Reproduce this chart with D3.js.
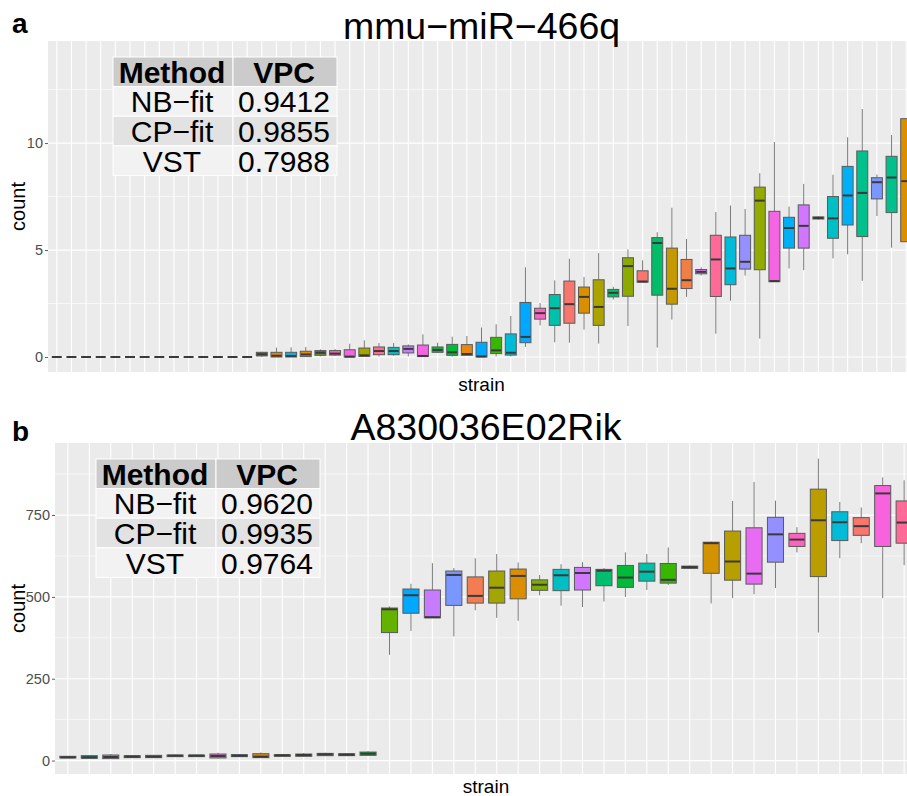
<!DOCTYPE html>
<html>
<head>
<meta charset="utf-8">
<script src="https://cdn.jsdelivr.net/npm/d3@7"></script>
<style>
  html,body{margin:0;padding:0;background:#fff;}
  svg{display:block;font-family:"Liberation Sans",Arial,Helvetica,sans-serif;}
</style>
</head>
<body>
<script>
// ---------------- DATA ----------------
// Panel a: mmu-miR-466q (59 strains, sorted by mean)
const titleA = "mmu\u2212miR\u2212466q";
const strainsA = d3.range(59).map(i => "A" + (i + 1));
const loA  = [0,0,0,0,0,0,0,0,0,0,0,0,0,0, 0.00,0.00,0.00,0.02,0.03,0.05,0.00,0.03,0.02,0.06,0.03,0.02,0.19,0.02,0.05,0.00,0.03,0.03,0.47,1.48,0.69,0.67,1.28,0.63,2.69,1.45,3.50,0.44,1.75,2.81,3.81,1.09,2.63,3.81,0.86,3.52,4.14,4.06,6.42,4.61,4.80,3.56,6.59,5.11,5.39];
const q1A  = [0,0,0,0,0,0,0,0,0,0,0,0,0,0, 0.05,0.00,0.00,0.02,0.08,0.09,0.00,0.03,0.11,0.11,0.19,0.02,0.22,0.08,0.08,0.00,0.16,0.09,0.67,1.77,1.48,1.58,2.05,1.48,2.81,2.84,3.50,2.89,2.47,3.20,3.89,2.83,3.38,4.11,4.08,3.52,5.09,5.09,6.45,5.55,6.17,5.63,7.39,6.75,5.39];
const medA = [0,0,0,0,0,0,0,0,0,0,0,0,0,0, 0.13,0.06,0.05,0.12,0.20,0.16,0.02,0.08,0.28,0.28,0.38,0.05,0.33,0.22,0.14,0.03,0.31,0.20,0.94,2.05,2.28,2.47,2.81,2.34,3.00,4.25,3.53,5.33,3.19,3.59,3.98,4.56,4.14,4.45,7.31,3.55,6.03,6.13,6.50,6.48,7.55,7.67,8.17,8.39,8.22];
const q3A  = [0,0,0,0,0,0,0,0,0,0,0,0,0,0, 0.22,0.22,0.22,0.27,0.30,0.30,0.34,0.42,0.47,0.45,0.52,0.56,0.47,0.59,0.58,0.69,0.92,1.08,2.55,2.28,2.92,3.55,3.27,3.61,3.16,4.64,4.03,5.58,5.09,4.56,4.09,5.69,5.61,5.69,7.94,6.81,6.53,7.11,6.55,7.50,8.91,9.63,8.38,9.38,11.14];
const hiA  = [0,0,0,0,0,0,0,0,0,0,0,0,0,0, 0.25,0.44,0.45,0.47,0.36,0.37,0.62,0.78,0.66,0.66,0.59,1.06,0.67,0.95,0.98,1.38,1.53,1.92,4.19,2.52,3.58,4.59,3.74,4.86,3.28,5.03,4.52,5.83,6.98,5.52,4.19,6.78,7.08,6.92,8.59,10.05,7.03,8.09,6.58,8.52,10.27,11.59,8.53,10.38,11.14];
const colorsA = [
  "#7f7f7f","#7f7f7f","#7f7f7f","#7f7f7f","#7f7f7f","#7f7f7f","#7f7f7f","#7f7f7f","#7f7f7f","#7f7f7f","#7f7f7f","#7f7f7f","#7f7f7f","#7f7f7f",
  "#5f8a2c","#E58700","#00B8E7","#E58700","#5f8a2c","#FF62BC","#F564E3","#A3A500","#FF6C91","#00BFC4",
  "#C77CFF","#F564E3","#00BA38","#00BA38","#E68613","#00A9FF","#39B600","#00BCD8","#00A9FF","#FF61C3",
  "#00C1AA","#F8766D","#D89000","#ABA300","#00BE67","#8DAA00","#F8766D","#00BE67","#C49A00","#F07F45",
  "#DC71FA","#FF6A98","#00BCD8","#9590FF","#93AA00","#F564E3","#00B0F6","#D376FF","#E58700","#00BFC4",
  "#00B0F6","#00C08B","#7997FF","#00C08B","#D89000"];
const majorA = [0, 5, 10];
const minorA = [2.5, 7.5, 12.5];
const methods = ["NB\u2212fit", "CP\u2212fit", "VST"];
const vpcA = ["0.9412", "0.9855", "0.7988"];

// Panel b: A830036E02Rik (40 strains)
const titleB = "A830036E02Rik";
const strainsB = d3.range(40).map(i => "B" + (i + 1));
const loB  = [7,6,5,8,8,11,11,6,11,8,12,12,14,14,15, 323,396,436,379,459,436,427,505,473,469,486,500,521,536,585,480,496,508,527,636,391,618,664,496,597];
const q1B  = [8,7,6,9,9,12,12,8,12,9,13,13,15,15,16, 391,450,436,474,481,481,494,520,519,521,534,529,548,542,587,572,551,539,606,654,562,672,688,654,664];
const medB = [10,10,11,12,12,15,15,14,15,12,16,17,19,18,21, 462,505,438,567,503,528,564,537,566,573,580,559,577,552,591,664,608,571,691,675,734,728,716,816,727];
const q3B  = [13,15,17,15,16,17,17,20,18,21,18,20,22,21,26, 466,524,521,579,561,579,585,552,584,590,584,596,603,602,594,667,701,711,743,694,829,760,742,840,793];
const hiB  = [14,16,20,16,17,18,18,24,19,25,19,23,24,22,29, 471,540,603,588,618,631,605,567,600,606,588,636,631,651,596,669,793,851,794,713,922,790,773,865,856];
const colorsB = [
  "#8a8a8a","#00A087","#C77CFF","#39B600","#9590FF","#7CAE00","#00BFC4","#F564E3","#00B0F6","#E58700",
  "#A3A500","#53B400","#EF7F49","#00C08B","#00BA38",
  "#64B200","#00A9FF","#C77CFF","#7997FF","#F27D52","#A3A500","#DB8E00","#7CAE00","#00BFC4","#CF78FF",
  "#00BE70","#00BA38","#00C1A7","#39B600","#2f5c70","#D39200","#B79F00","#E76BF3","#9590FF","#FF62BC",
  "#BB9D00","#00BCD8","#F8766D","#F962DD","#FF6A98"];
const majorB = [0, 250, 500, 750];
const minorB = [125, 375, 625, 875];
const vpcB = ["0.9620", "0.9935", "0.9764"];

// ---------------- DRAW ----------------
const W = 907, H = 796;
const svg = d3.select("body").append("svg").attr("width", W).attr("height", H);

function panel(o) {
  const g = svg.append("g");
  const x = d3.scalePoint().domain(o.strains).range([o.left, o.right]).padding(0.6);
  const y = d3.scaleLinear().domain(o.ydom).range([o.bottom, o.top]);
  const step = x.step();
  const bw = step * 0.75;

  const clipId = "clip" + o.letter;
  svg.append("clipPath").attr("id", clipId).append("rect")
    .attr("x", o.left).attr("y", o.top).attr("width", o.right - o.left).attr("height", o.bottom - o.top);

  const pg = g.append("g").attr("clip-path", `url(#${clipId})`);
  pg.append("rect").attr("x", o.left).attr("y", o.top).attr("width", o.right - o.left)
    .attr("height", o.bottom - o.top).attr("fill", "#EBEBEB");

  // grid
  pg.selectAll(".minor").data(o.minor).join("line")
    .attr("x1", o.left).attr("x2", o.right).attr("y1", d => y(d)).attr("y2", d => y(d))
    .attr("stroke", "#fff").attr("stroke-width", 0.6);
  pg.selectAll(".major").data(o.major).join("line")
    .attr("x1", o.left).attr("x2", o.right).attr("y1", d => y(d)).attr("y2", d => y(d))
    .attr("stroke", "#fff").attr("stroke-width", 1.2);
  pg.selectAll(".vgrid").data(o.strains).join("line")
    .attr("x1", d => x(d)).attr("x2", d => x(d)).attr("y1", o.top).attr("y2", o.bottom)
    .attr("stroke", "#fff").attr("stroke-width", 1.1);

  // boxes
  const rows = o.strains.map((s, i) => ({s, lo: o.lo[i], q1: o.q1[i], med: o.med[i], q3: o.q3[i], hi: o.hi[i], c: o.colors[i]}));
  const bg = pg.selectAll(".box").data(rows).join("g");
  bg.append("line").attr("x1", d => x(d.s)).attr("x2", d => x(d.s))
    .attr("y1", d => y(d.hi)).attr("y2", d => y(d.q3)).attr("stroke", "#7a7a7a").attr("stroke-width", 1);
  bg.append("line").attr("x1", d => x(d.s)).attr("x2", d => x(d.s))
    .attr("y1", d => y(d.q1)).attr("y2", d => y(d.lo)).attr("stroke", "#7a7a7a").attr("stroke-width", 1);
  bg.append("rect").attr("x", d => x(d.s) - bw / 2).attr("width", bw)
    .attr("y", d => y(d.q3)).attr("height", d => Math.max(0, y(d.q1) - y(d.q3)))
    .attr("fill", d => d.c).attr("stroke", "#5a5a5a").attr("stroke-width", 1);
  bg.append("line").attr("x1", d => x(d.s) - bw / 2 + 0.5).attr("x2", d => x(d.s) + bw / 2 - 0.5)
    .attr("y1", d => y(d.med)).attr("y2", d => y(d.med)).attr("stroke", "#3a3a3a").attr("stroke-width", 2);

  // y axis
  const ax = g.append("g").attr("transform", `translate(${o.left},0)`)
    .call(d3.axisLeft(y).tickValues(o.major).tickSize(3).tickPadding(2).tickFormat(d3.format("d")));
  ax.select(".domain").remove();
  ax.selectAll(".tick line").attr("stroke", "#333").attr("stroke-width", 0.8);
  ax.selectAll(".tick text").attr("font-size", 14.5).attr("fill", "#4D4D4D")
    .attr("font-family", "Liberation Sans, Arial, sans-serif");

  // axis titles
  g.append("text").attr("transform", `translate(25,${(o.top + o.bottom) / 2}) rotate(-90)`)
    .attr("text-anchor", "middle").attr("font-size", 20).attr("fill", "#000").text("count");
  g.append("text").attr("x", (o.left + o.right) / 2).attr("y", o.bottom + 18.5)
    .attr("text-anchor", "middle").attr("font-size", 19).attr("fill", "#000").text("strain");

  // table
  const tx = o.table.x, ty = o.table.y, cw = [120, 104], rh = 29.6;
  const tg = g.append("g");
  const header = ["Method", "VPC"];
  const fills = ["#F2F2F2", "#E2E2E2", "#F2F2F2"];
  header.forEach((h, j) => {
    const cx = tx + (j === 0 ? 0 : cw[0]);
    tg.append("rect").attr("x", cx).attr("y", ty).attr("width", cw[j]).attr("height", rh)
      .attr("fill", "#CBCBCB").attr("stroke", "#fff").attr("stroke-width", 1);
    tg.append("text").attr("x", cx + cw[j] / 2 - 1).attr("y", ty + rh / 2 + 11)
      .attr("text-anchor", "middle").attr("font-size", 30).attr("font-weight", "bold").attr("fill", "#000").text(h);
  });
  methods.forEach((m, i) => {
    const ry = ty + rh * (i + 1);
    [m, o.vpc[i]].forEach((t, j) => {
      const cx = tx + (j === 0 ? 0 : cw[0]);
      tg.append("rect").attr("x", cx).attr("y", ry).attr("width", cw[j]).attr("height", rh)
        .attr("fill", fills[i]).attr("stroke", "#fff").attr("stroke-width", 1);
      tg.append("text").attr("x", cx + cw[j] / 2 - 1).attr("y", ry + rh / 2 + 11)
        .attr("text-anchor", "middle").attr("font-size", 30).attr("fill", "#000").text(t);
    });
  });

  // panel letter and title (drawn last so they sit on top)
  g.append("text").attr("x", 12).attr("y", o.letterY).attr("font-size", 28).attr("font-weight", "bold")
    .attr("fill", "#000").text(o.letter);
  g.append("text").attr("x", (o.left + o.right) / 2).attr("y", o.titleY).attr("text-anchor", "middle")
    .attr("font-size", 37.5).attr("fill", "#000").text(o.title);
}

panel({
  letter: "a", letterY: 33, title: titleA, titleY: 39,
  left: 48, right: 915, top: 41, bottom: 372, ydom: [-0.7, 14.77],
  strains: strainsA, lo: loA, q1: q1A, med: medA, q3: q3A, hi: hiA, colors: colorsA,
  major: majorA, minor: minorA, vpc: vpcA, table: {x: 113, y: 57}
});
panel({
  letter: "b", letterY: 441, title: titleB, titleY: 440,
  left: 55, right: 917, top: 443, bottom: 774, ydom: [-41, 970],
  strains: strainsB, lo: loB, q1: q1B, med: medB, q3: q3B, hi: hiB, colors: colorsB,
  major: majorB, minor: minorB, vpc: vpcB, table: {x: 96, y: 459}
});
</script>
</body>
</html>
